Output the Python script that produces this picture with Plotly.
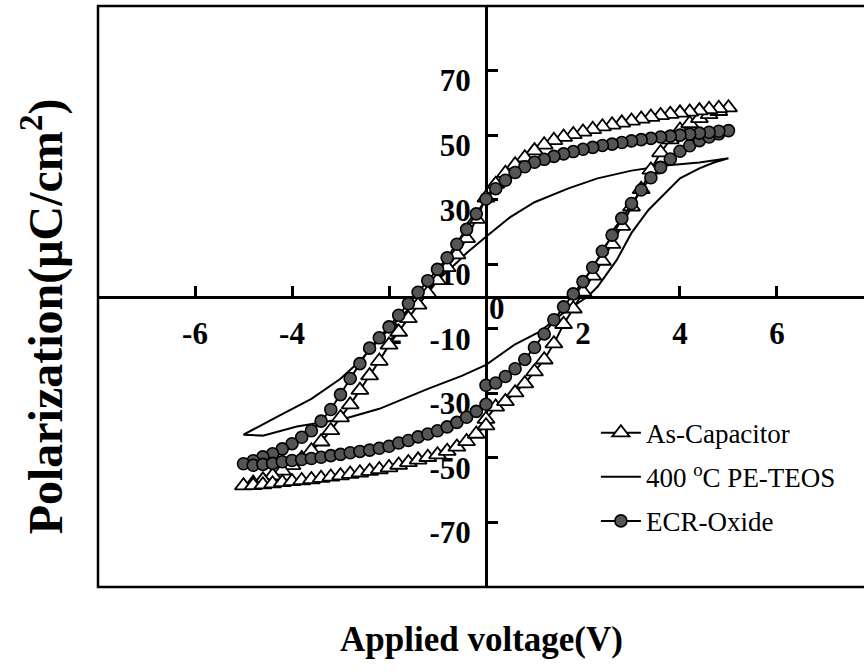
import plotly.graph_objects as go

# ---- Voltage sweeps (V) ----
V_UP = [0.0, 0.2, 0.4, 0.6, 0.8, 1.0, 1.2, 1.4, 1.6, 1.8, 2.0, 2.2, 2.4, 2.6,
        2.8, 3.0, 3.2, 3.4, 3.6, 3.8, 4.0, 4.2, 4.4, 4.6, 4.8, 5.0]
V_DOWN = [5.0, 4.8, 4.6, 4.4, 4.2, 4.0, 3.8, 3.6, 3.4, 3.2, 3.0, 2.8, 2.6, 2.4,
          2.2, 2.0, 1.8, 1.6, 1.4, 1.2, 1.0, 0.8, 0.6, 0.4, 0.2, 0.0,
          -0.2, -0.4, -0.6, -0.8, -1.0, -1.2, -1.4, -1.6, -1.8, -2.0, -2.2,
          -2.4, -2.6, -2.8, -3.0, -3.2, -3.4, -3.6, -3.8, -4.0, -4.2, -4.4,
          -4.6, -4.8, -5.0]
V_RET = [-5.0, -4.8, -4.6, -4.4, -4.2, -4.0, -3.8, -3.6, -3.4, -3.2, -3.0,
         -2.8, -2.6, -2.4, -2.2, -2.0, -1.8, -1.6, -1.4, -1.2, -1.0, -0.8,
         -0.6, -0.4, -0.2, 0.0]

# ---- As-Capacitor (triangles), polarization uC/cm2 ----
AS_UP = [-38.0, -34.2, -32.5, -29.8, -27.0, -23.3, -19.6, -14.6, -8.6, -3.8,
         1.4, 6.4, 11.0, 16.2, 21.8, 27.8, 33.2, 39.2, 44.6, 48.6, 51.6, 53.6,
         55.2, 56.4, 57.4, 58.5]
AS_DOWN = [58.5, 58.3, 58.0, 57.6, 57.2, 56.9, 56.5, 56.1, 55.6, 55.0, 54.4,
           53.8, 53.2, 52.6, 51.8, 51.0, 50.2, 49.4, 48.4, 47.0, 45.2, 43.0,
           40.8, 38.2, 34.8, 30.6,
           24.0, 18.0, 13.0, 9.0, 5.0, 1.0, -2.6, -6.8, -11.0, -15.0, -20.0,
           -24.5, -29.0, -33.5, -37.5, -41.5, -45.0, -47.8, -50.2, -52.3,
           -54.0, -55.5, -56.8, -57.8, -58.6]
AS_RET = [-58.6, -58.5, -58.3, -58.0, -57.6, -57.3, -57.0, -56.7, -56.3,
          -55.9, -55.5, -55.0, -54.6, -54.1, -53.6, -53.0, -52.2, -51.4,
          -50.6, -49.8, -49.0, -47.9, -46.6, -44.9, -42.6, -40.0]

# ---- ECR-Oxide (circles) ----
ECR_UP = [-27.5, -26.8, -24.8, -22.4, -19.5, -15.8, -11.6, -7.2, -3.2, 0.8,
          4.6, 9.0, 14.0, 19.0, 24.2, 28.8, 33.0, 36.8, 40.0, 42.6, 45.0,
          46.7, 48.3, 49.4, 50.4, 51.4]
ECR_DOWN = [51.4, 51.2, 50.9, 50.6, 50.3, 50.0, 49.7, 49.4, 49.0, 48.6, 48.2,
            47.7, 47.2, 46.8, 46.2, 45.6, 44.9, 44.2, 43.4, 42.5, 41.6, 40.2,
            38.4, 36.0, 33.4, 30.2,
            25.6, 20.8, 16.2, 12.0, 8.4, 4.9, 1.3, -2.2, -5.8, -9.4, -12.8,
            -16.0, -20.8, -25.4, -30.4, -35.0, -38.6, -41.6, -43.6, -45.6,
            -47.2, -48.7, -49.7, -50.9, -51.8]
ECR_RET = [-52.3, -52.3, -52.0, -51.7, -51.2, -50.8, -50.5, -50.2, -49.8,
           -49.3, -48.9, -48.4, -48.0, -47.6, -47.0, -46.4, -45.4, -44.6,
           -43.5, -42.6, -41.6, -40.4, -39.0, -37.4, -35.6, -33.4]

# ---- 400 C PE-TEOS (solid line) ----
TEOS_V = [5.0, 4.4, 3.7, 3.0, 2.3, 1.7, 1.0, 0.5, 0.0, -0.4, -0.6, -1.0,
          -1.5, -2.0, -2.3, -2.6, -3.0, -3.6, -4.3, -5.0,
          -4.6, -3.9, -2.9, -2.2, -1.2, -0.5, 0.0, 0.6, 1.1, 1.6, 2.1, 2.3,
          2.7, 3.0, 3.35, 3.7, 4.0, 4.4, 4.7, 5.0]
TEOS_P = [42.8, 41.5, 40.6, 39.0, 36.6, 33.5, 29.2, 24.6, 18.5, 13.5, 10.5,
          5.0, -2.5, -10.0, -15.0, -20.0, -25.5, -31.7, -37.2, -42.8,
          -43.1, -40.3, -37.8, -34.8, -28.6, -24.6, -21.2, -14.8, -11.0,
          -5.0, 0.0, 3.0, 11.4, 19.7, 26.8, 32.0, 36.6, 39.7, 41.5, 42.8]

X_TICKS = [-6, -4, -2, 2, 4, 6]
Y_TICKS = [-70, -50, -30, -10, 10, 30, 50, 70]
X_RANGE = [-8, 7.794]
Y_RANGE = [-90, 90]

SERIF = "Liberation Serif, Times New Roman, serif"

as_v = V_UP + V_DOWN[1:] + V_RET[1:]
as_p = AS_UP + AS_DOWN[1:] + AS_RET[1:]
ecr_v = V_UP + V_DOWN[1:] + V_RET[1:]
ecr_p = ECR_UP + ECR_DOWN[1:] + ECR_RET[1:]

fig = go.Figure()
fig.add_trace(go.Scatter(
    x=TEOS_V, y=TEOS_P, mode="lines", name="400 <sup>o</sup>C PE-TEOS",
    line=dict(color="black", width=2), legendrank=2, legendgroup="b"))
fig.add_trace(go.Scatter(
    x=as_v, y=as_p, mode="lines+markers", name="As-Capacitor",
    line=dict(color="black", width=2),
    marker=dict(symbol="triangle-up", size=15, color="white",
                line=dict(color="black", width=1.8)),
    legendrank=1, legendgroup="a"))
fig.add_trace(go.Scatter(
    x=ecr_v, y=ecr_p, mode="lines+markers", name="ECR-Oxide",
    line=dict(color="black", width=2),
    marker=dict(symbol="circle", size=12, color="#555555",
                line=dict(color="black", width=1.6)),
    legendrank=3, legendgroup="c"))

y0_frac = (0 - X_RANGE[0]) / (X_RANGE[1] - X_RANGE[0])

fig.update_layout(
    width=864, height=672,
    margin=dict(l=98, r=0, t=6, b=85),
    paper_bgcolor="white", plot_bgcolor="white",
    font=dict(family=SERIF, color="black"),
    showlegend=True,
    legend=dict(x=0.650, y=0.307, xanchor="left", yanchor="top",
                font=dict(family=SERIF, size=27, color="black"),
                bgcolor="rgba(0,0,0,0)", tracegroupgap=6,
                itemwidth=40),
    xaxis=dict(range=X_RANGE, anchor="free", position=0.5,
               showgrid=False, zeroline=False, showline=True,
               linecolor="black", linewidth=3, layer="below traces",
               ticks="inside", ticklen=10, tickwidth=3, tickcolor="black",
               tickvals=X_TICKS, ticktext=[str(v) for v in X_TICKS],
               tickfont=dict(family=SERIF, size=31, color="black", weight="bold"),
               ticklabelstandoff=8),
    yaxis=dict(range=Y_RANGE, anchor="free", position=y0_frac,
               showgrid=False, zeroline=False, showline=True,
               linecolor="black", linewidth=3, layer="below traces",
               ticks="inside", ticklen=10, tickwidth=3, tickcolor="black",
               tickvals=Y_TICKS, ticktext=[str(v) for v in Y_TICKS],
               tickfont=dict(family=SERIF, size=31, color="black", weight="bold"),
               ticklabelstandoff=8, ticklabelshift=10),
    shapes=[dict(type="rect", xref="paper", yref="paper", x0=0, x1=1.2,
                 y0=0, y1=1, line=dict(color="black", width=2.5),
                 layer="below")],
    annotations=[
        dict(x=0, y=0, xref="x", yref="y", text="<b>0</b>", showarrow=False,
             xanchor="left", yanchor="top", xshift=1, yshift=8,
             font=dict(family=SERIF, size=31, color="black")),
        dict(x=0.5, y=-0.091, xref="paper", yref="paper",
             text="<b>Applied voltage(V)</b>", showarrow=False,
             xanchor="center", yanchor="middle",
             font=dict(family=SERIF, size=35, color="black")),
        dict(x=-0.073, y=0.466, xref="paper", yref="paper",
             text="<b>Polarization(μC/cm<sup>2</sup>)</b>", showarrow=False,
             textangle=-90, xanchor="center", yanchor="middle",
             font=dict(family=SERIF, size=48, color="black")),
    ],
)

fig.write_html("out.html")
